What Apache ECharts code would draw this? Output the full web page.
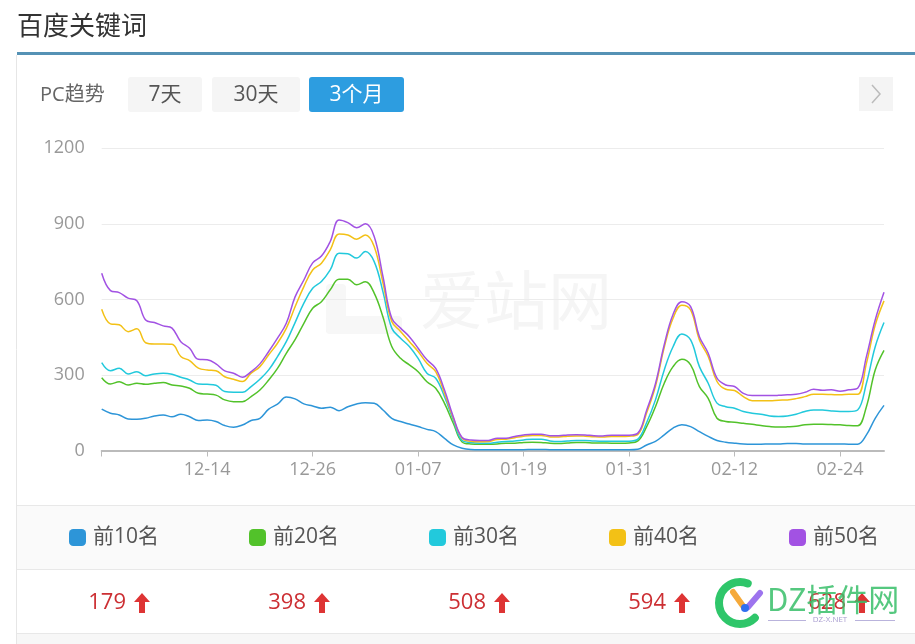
<!DOCTYPE html>
<html>
<head>
<meta charset="utf-8">
<script src="https://cdn.jsdelivr.net/npm/echarts@6/dist/echarts.min.js"></script>
<style>
html,body{margin:0;padding:0;background:#fff;}
#c{width:915px;height:644px;}
</style>
</head>
<body>
<div id="c"></div>
<script>
// ---------- data ----------
const seriesNames = ['前10名', '前20名', '前30名', '前40名', '前50名'];
const yTicks = [0, 300, 600, 900, 1200];
const tabLabels = ['7天', '30天', '3个月'];

const top10 = [164,148,141,125,124,128,137,141,134,144,
  134,119,121,115,99,92,101,119,128,164,
  184,212,205,185,177,168,172,158,174,185,
  190,188,161,128,115,105,95,84,75,48,
  22,9,4,3,3,3,3,3,3,4,
  4,3,3,3,3,3,3,3,3,3,
  3,5,22,36,62,89,102,95,75,56,
  40,33,29,26,25,25,26,26,28,28,
  26,26,26,26,26,25,25,62,128,179];
const top20 = [289,264,273,260,267,263,267,270,260,256,
  247,227,224,220,201,194,194,214,240,280,
  326,386,440,505,565,591,638,680,680,658,
  670,625,530,413,366,340,313,273,247,187,
  108,34,26,25,25,26,29,29,32,33,
  32,29,28,30,32,32,30,30,29,29,
  30,38,95,174,267,333,362,340,254,207,
  128,115,112,108,104,99,95,93,94,96,
  102,104,104,103,102,99,98,174,320,398];
const top30 = [349,317,327,304,313,297,304,307,303,291,
  280,264,263,259,234,231,231,254,283,320,
  373,432,508,585,644,671,717,783,781,764,
  790,750,630,486,446,413,366,307,287,214,
  121,40,32,29,29,33,36,38,42,45,
  45,38,36,38,40,40,38,37,37,37,
  37,45,111,201,320,412,463,439,333,267,
  188,174,168,155,148,144,137,135,137,144,
  155,161,161,157,155,155,161,267,412,508];
const top40 = [561,503,499,472,483,428,423,423,422,373,
  357,327,320,317,293,283,274,307,333,380,
  426,485,571,651,717,744,797,860,856,839,
  856,810,665,512,473,433,393,346,313,227,
  128,48,37,35,36,44,45,51,57,60,
  60,54,54,57,58,57,55,54,56,56,
  57,64,150,255,410,525,577,558,439,373,
  274,243,238,214,198,198,198,200,201,206,
  214,223,223,222,221,223,223,346,498,594];
const top50 = [704,635,627,605,595,518,508,495,486,432,
  406,362,360,344,316,307,291,313,344,393,
  446,505,610,677,745,772,830,915,905,885,
  900,850,690,525,486,452,406,360,326,240,
  134,52,42,40,40,49,49,56,62,65,
  65,59,59,62,63,62,59,58,61,61,
  61,69,160,265,420,540,591,571,452,386,
  287,260,254,227,218,218,218,219,221,223,
  231,243,239,241,235,241,247,373,518,628];

// category labels: 90 days starting 12-02
const dates = [];
(function(){
  const start = Date.UTC(2019, 11, 2);
  for (let k = 0; k < top10.length; k++) {
    const d = new Date(start + k * 86400000);
    dates.push(String(d.getUTCMonth() + 1).padStart(2, '0') + '-' + String(d.getUTCDate()).padStart(2, '0'));
  }
})();

// ---------- styling ----------
const allData = [top10, top20, top30, top40, top50];
const colors = ['#2d95d8', '#52c22a', '#22c9dc', '#f3c116', '#a252e3'];
const FONT = "'Open Sans','Noto Sans CJK SC',sans-serif";
const CJK = "'Noto Sans CJK SC','Open Sans',sans-serif";

const chart = echarts.init(document.getElementById('c'), null, {renderer: 'canvas'});

const g = [];
// page title
g.push({type:'text', x:17, y:25, style:{text:'百度关键词', fontSize:26, fontFamily:CJK, fill:'#333', verticalAlign:'middle'}});
g.push({type:'rect', shape:{x:17, y:52, width:898, height:3}, style:{fill:'#5592b5'}});
g.push({type:'line', shape:{x1:16.5, y1:55, x2:16.5, y2:644}, style:{stroke:'#e6e6e6', lineWidth:1}});
// tabs
g.push({type:'text', x:40, y:95, style:{text:'PC趋势', fontSize:20, fontFamily:FONT, fill:'#666', verticalAlign:'middle'}});
const tabBoxes = [[128,74],[212,88],[309,95]];
tabLabels.forEach((t, i) => {
  const active = i === tabLabels.length - 1;
  g.push({type:'rect', shape:{x:tabBoxes[i][0], y:77, width:tabBoxes[i][1], height:35, r:3},
    style:{fill: active ? '#2d9de0' : '#f5f5f5'}});
  g.push({type:'text', x:tabBoxes[i][0] + tabBoxes[i][1]/2, y:95,
    style:{text:t, fontSize:21, fontFamily:FONT, fill: active ? '#fff' : '#555', align:'center', verticalAlign:'middle'}});
});
// right arrow button
g.push({type:'rect', shape:{x:859, y:77, width:34, height:34}, style:{fill:'#f4f4f4'}});
g.push({type:'polyline', shape:{points:[[872,85],[880,94],[872,103]]}, style:{stroke:'#bbb', lineWidth:1.5, fill:null}});

// watermark 爱站网 (behind chart)
g.push({type:'rect', z:-5, shape:{x:326, y:284, width:20, height:50, r:4}, style:{fill:'#f7f7f7'}});
g.push({type:'rect', z:-5, shape:{x:326, y:316, width:76, height:18, r:4}, style:{fill:'#f7f7f7'}});
g.push({type:'text', z:-5, x:420, y:300, style:{text:'爱站网', fontSize:64, fontFamily:CJK, fill:'#f5f5f5', verticalAlign:'middle'}});

// legend row & value row backgrounds
g.push({type:'rect', z:-5, shape:{x:17, y:505, width:898, height:64}, style:{fill:'#fafafa'}});
g.push({type:'line', shape:{x1:17, y1:505.5, x2:915, y2:505.5}, style:{stroke:'#e8e8e8', lineWidth:1}});
g.push({type:'line', shape:{x1:17, y1:569.5, x2:915, y2:569.5}, style:{stroke:'#e8e8e8', lineWidth:1}});
g.push({type:'rect', z:-5, shape:{x:17, y:634, width:898, height:10}, style:{fill:'#f7f7f7'}});
g.push({type:'line', shape:{x1:17, y1:633.5, x2:915, y2:633.5}, style:{stroke:'#e8e8e8', lineWidth:1}});

// values row: last value of each series with red up arrow
allData.forEach((arr, i) => {
  const right = 126 + 180 * i;
  g.push({type:'text', x:right, y:603, style:{text:String(arr[arr.length - 1]), fontSize:22, fontFamily:FONT, fill:'#cc2f33', align:'right', verticalAlign:'middle'}});
  const cx = right + 16;
  g.push({type:'polygon', shape:{points:[[cx,593],[cx+8,602],[cx+3,602],[cx+3,613],[cx-3,613],[cx-3,602],[cx-8,602]]}, style:{fill:'#de3434'}});
});

// DZ watermark overlay
g.push({type:'arc', z:20, shape:{cx:740, cy:603, r:21, startAngle:Math.PI/4, endAngle:Math.PI*1.62, clockwise:true},
  style:{stroke:'#2fc66a', lineWidth:8, lineCap:'round', fill:null}});
g.push({type:'line', z:20, shape:{x1:733, y1:592, x2:743, y2:606}, style:{stroke:'#f5a93a', lineWidth:6, lineCap:'round'}});
g.push({type:'line', z:20, shape:{x1:760, y1:593, x2:748, y2:607}, style:{stroke:'#9d74ee', lineWidth:6, lineCap:'round'}});
g.push({type:'circle', z:20, shape:{cx:745, cy:608, r:4}, style:{fill:'#2f6fef'}});
g.push({type:'text', z:20, x:767, y:599, style:{text:'DZ插件网', fontSize:31, fontFamily:CJK, fill:'rgba(55,190,105,0.85)', verticalAlign:'middle'}});
g.push({type:'line', z:20, shape:{x1:768, y1:620.5, x2:806, y2:620.5}, style:{stroke:'#b9b3dc', lineWidth:1}});
g.push({type:'line', z:20, shape:{x1:855, y1:620.5, x2:895, y2:620.5}, style:{stroke:'#b9b3dc', lineWidth:1}});
g.push({type:'text', z:20, x:830, y:620, style:{text:'DZ-X.NET', fontSize:8, fontFamily:FONT, fill:'#a89cd0', align:'center', verticalAlign:'middle'}});

const option = {
  animation: false,
  textStyle: {fontFamily: FONT},
  grid: {left: 101.7, right: 31, top: 148.3, bottom: 193.5, containLabel: false},
  legend: seriesNames.map((n, i) => ({
    data: [n], left: 69 + 180 * i, top: 527, padding: 0,
    itemWidth: 17, itemHeight: 17, icon: 'roundRect', selectedMode: false,
    textStyle: {fontSize: 21, color: '#555', fontFamily: FONT, padding: [0, 0, 0, 2]}
  })),
  xAxis: {
    type: 'category', data: dates, boundaryGap: false,
    axisLine: {lineStyle: {color: '#bbb', width: 2}},
    axisTick: {interval: (idx) => idx % 12 === 0, length: 6, lineStyle: {color: '#bbb', width: 1}},
    axisLabel: {interval: (idx) => idx % 12 === 0 && idx > 0, fontSize: 18, color: '#999', margin: 10, fontFamily: FONT},
    splitLine: {show: false}
  },
  yAxis: {
    type: 'value', min: yTicks[0], max: yTicks[yTicks.length - 1], interval: yTicks[1] - yTicks[0],
    axisLine: {show: false}, axisTick: {show: false},
    axisLabel: {fontSize: 18, color: '#999', margin: 17, fontFamily: FONT, formatter: (v) => String(v)},
    splitLine: {lineStyle: {color: '#ececec', width: 1}}
  },
  series: seriesNames.map((n, i) => ({
    name: n, type: 'line', data: allData[i], smooth: 0.4, showSymbol: false, symbol: 'none',
    lineStyle: {width: 1.5, color: colors[i]}, itemStyle: {color: colors[i]}
  })),
  graphic: {elements: g}
};
chart.setOption(option);
</script>
</body>
</html>
